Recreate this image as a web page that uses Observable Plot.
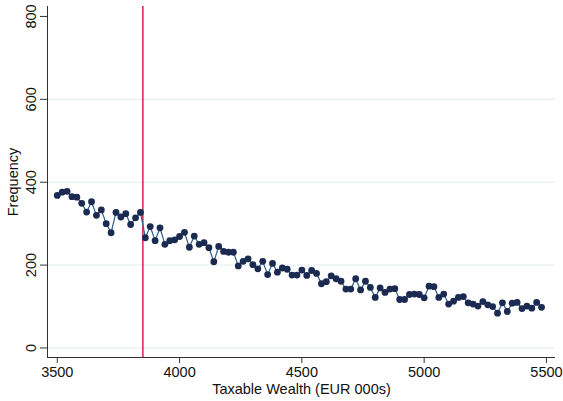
<!DOCTYPE html>
<html>
<head>
<meta charset="utf-8">
<script src="https://cdn.jsdelivr.net/npm/d3@7"></script>
<script src="https://cdn.jsdelivr.net/npm/@observablehq/plot@0.6"></script>
<style>
  html, body { margin: 0; padding: 0; background: #fff; }
  svg { display: block; }
</style>
</head>
<body>
<div id="chart"></div>
<script>
const wealth = d3.range(3500, 5481, 20);
const frequency = [
  368, 376, 378, 365, 364, 349, 328, 353, 320, 333,
  300, 278, 327, 316, 324, 298, 314, 327, 266, 293,
  259, 290, 250, 259, 261, 269, 279, 243, 270, 250,
  254, 242, 208, 245, 233, 231, 231, 198, 209, 215,
  201, 191, 209, 177, 204, 183, 193, 190, 176, 176,
  188, 175, 187, 180, 155, 160, 174, 167, 161, 142,
  142, 167, 140, 161, 146, 122, 145, 134, 142, 143,
  117, 117, 129, 130, 129, 121, 149, 148, 122, 130,
  106, 113, 122, 124, 109, 106, 101, 112, 104, 100,
  84, 109, 88, 108, 110, 95, 101, 96, 110, 98
];
const xTicks = [3500, 4000, 4500, 5000, 5500];
const yTicks = [0, 200, 400, 600, 800];
const gridTicks = [0, 200, 400, 600];
const cutoff = [3850];
const xDomain = [3460, 5537];
const yDomain = [-23, 824];

const data = wealth.map((w, i) => ({w, f: frequency[i]}));

const chart = Plot.plot({
  width: 563,
  height: 401,
  marginLeft: 47,
  marginRight: 8,
  marginTop: 6,
  marginBottom: 44,
  style: {fontFamily: "'Liberation Sans', Arial, sans-serif", fontSize: "14.5px", color: "#111", background: "#fff"},
  x: {domain: xDomain},
  y: {domain: yDomain},
  marks: [
    Plot.gridY(gridTicks, {stroke: "#e3ecee", strokeOpacity: 1, strokeWidth: 1}),
    Plot.axisX(xTicks, {tickSize: 6, tickPadding: 3, fontSize: 14.5, stroke: "#333", label: "Taxable Wealth (EUR 000s)", labelArrow: "none", labelAnchor: "center", labelOffset: 36, tickFormat: d => String(d)}),
    Plot.axisY(yTicks, {tickSize: 7, tickPadding: 5, fontSize: 14.5, stroke: "#333", tickRotate: -90, label: "Frequency", labelArrow: "none", labelAnchor: "center", labelOffset: 40, tickFormat: d => String(d)}),
    Plot.ruleX([xDomain[0]], {stroke: "#333", strokeWidth: 1}),
    Plot.ruleY([yDomain[0]], {stroke: "#333", strokeWidth: 1}),
    Plot.ruleX(cutoff, {stroke: "#cc0033", strokeWidth: 1.3}),
    Plot.line(data, {x: "w", y: "f", stroke: "#2b5f8f", strokeWidth: 1.2}),
    Plot.dot(data, {x: "w", y: "f", r: 3.4, fill: "#1a2a50", stroke: "none"})
  ]
});
document.getElementById("chart").appendChild(chart);
</script>
</body>
</html>
